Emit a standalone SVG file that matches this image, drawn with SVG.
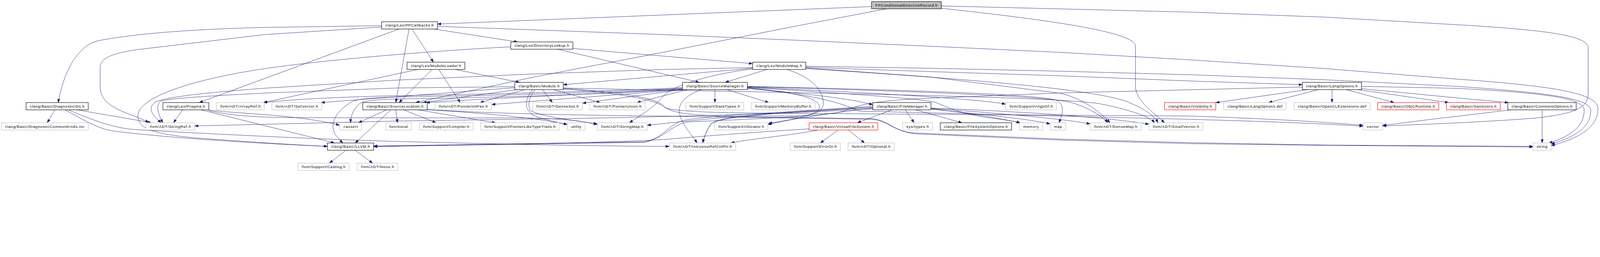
<svg xmlns="http://www.w3.org/2000/svg" width="4843" height="659" viewBox="0 0 4843 659" style="max-width:100%;height:auto">
<style>
.node rect{fill:#ffffff;stroke:#000000;stroke-width:1.3}
.node.g rect{stroke:#bfbfbf}
.node.r rect{stroke:#ff0000}
.node.root rect{fill:#bfbfbf}
.node text{font-family:"Liberation Sans",Arial,Helvetica,sans-serif;font-size:11.5px;text-anchor:middle;fill:#000000}
#edges path{fill:none;stroke:#191970;stroke-width:1;marker-end:url(#arr)}
</style>
<defs>
<marker id="arr" markerUnits="userSpaceOnUse" markerWidth="11" markerHeight="8" refX="11" refY="4" orient="auto">
<path d="M0,0 L11,4 L0,8 z" fill="#191970" stroke="#191970" stroke-width="0.5"/>
</marker>
</defs>
<rect x="0" y="0" width="4843" height="659" fill="#ffffff"/>
<g id="edges">
<path d="M2638,20 L1324,73"/>
<path d="M2683,26.7 L2410,79 L2000,160 L1610,235 L1258,311.2"/>
<path d="M2849,25 C3150,58 3437,95 3437,140 L3437,262 C3437,305 3495,345 3525,372.5"/>
<path d="M2849,18 L3610,37 L4010,52 L4410,75 C4700,92 4807,110 4807,145 L4807,285 C4807,330 4760,345 4650,358 C4500,370 4300,378 4185,382"/>
<path d="M1155,78 L810,83 C600,88 420,100 300,123 C230,137 190,230 176,311.2"/>
<path d="M1155,82 L800,105 L420,150 C330,162 303,180 303,205 L303,262 C303,300 330,322 380,342 C410,354 435,362 450,372.5"/>
<path d="M1208,88 L603,311.2"/>
<path d="M1238,88 L1198,311.2"/>
<path d="M1247,88 L1312,188.6"/>
<path d="M1313,88 L1567,127.3"/>
<path d="M1324,80 L2010,105 L2410,122 L2810,140 L3210,159 L3610,182 L4010,208 L4410,240 C4720,262 4837,285 4837,330 C4837,385 4780,420 4695,442"/>
<path d="M166,333.2 L143,372.5"/>
<path d="M197,333.2 C250,362 295,390 340,397 C450,412 700,432 991,444"/>
<path d="M207,333.2 C280,365 350,390 410,393 C600,405 1000,424 1200,429 C1600,440 1900,444 2026,444"/>
<path d="M233,333.2 C300,345 390,360 458,372.5"/>
<path d="M553,333.2 L525,372.5"/>
<path d="M608,333.2 L1013,433.8"/>
<path d="M632,334 C700,342 800,346 880,355 C950,363 1000,372 1028,380"/>
<path d="M632,336 C700,350 760,356 900,357 L1600,358 C1700,360 1760,366 1808,378"/>
<path d="M1734,147 L2278,193"/>
<path d="M1688,149.3 L2117,249.9"/>
<path d="M1546,142 C1300,155 1000,180 810,207 C600,237 430,290 418,345 C410,395 480,408 600,419 C750,430 900,440 991,444"/>
<path d="M1377,210.6 L1573,249.9"/>
<path d="M1308,210.6 L1208,311.2"/>
<path d="M1265,210.6 L797,311.2"/>
<path d="M1328,210.6 L1393,311.2"/>
<path d="M2322,210.6 L2195,249.9"/>
<path d="M2278,207 L1705,257"/>
<path d="M2439,204 L2810,217 L3210,230 L3610,246 L3942,257"/>
<path d="M2439,201 L2810,207 L3210,216 L3610,227 L4010,242 L4410,262 C4700,282 4815,300 4815,335 C4815,385 4770,415 4695,437"/>
<path d="M2278,205 L2000,211 L1600,225 L1200,243 L810,267 C650,279 500,293 470,310 C448,325 455,345 488,372.5"/>
<path d="M2278,209 C2150,225 2030,260 2005,295 C1975,330 1935,352 1905,372.5"/>
<path d="M2382,210.6 C2450,232 2492,270 2492,313 C2492,345 2450,352 2400,352 C2300,352 2190,348 2152,376 C2138,396 2130,420 2127,433.8"/>
<path d="M2439,206 L2810,233 L3210,283 C3280,300 3330,340 3360,372.5"/>
<path d="M2439,208 C2900,238 3300,268 3410,308 C3465,330 3495,352 3505,372.5"/>
<path d="M1565,271.9 L1280,311.2"/>
<path d="M1642,271.9 L1672,311.2"/>
<path d="M1588,271.9 L1453,311.2"/>
<path d="M1675,271.9 L1817,311.2"/>
<path d="M1558,266 L972,311.2"/>
<path d="M1558,263 L1200,267 L810,282 C650,290 510,298 487,307 C470,318 478,345 493,372.5"/>
<path d="M1705,267 C2400,282 3200,292 3330,315 C3430,335 3480,355 3495,372.5"/>
<path d="M1620,271.9 C1605,290 1595,315 1605,335 C1640,355 1740,365 1808,376"/>
<path d="M1612,271.9 C1590,300 1583,330 1615,350 C1650,365 1695,372 1717,378"/>
<path d="M1705,268 C1900,280 1990,300 2010,322 C2030,345 2100,352 2300,355 L2640,360 C2690,365 2700,395 2760,403 L3210,422 L3610,433 L4010,440 L4640,444"/>
<path d="M1705,270 C1900,285 1990,305 2010,325 C2030,340 2200,343 2400,344 L3600,352 C3900,362 4050,374 4126,380"/>
<path d="M2262,268 C2450,285 2580,300 2642,318"/>
<path d="M2164,271.9 L2164,311.2"/>
<path d="M2200,271.9 L2327,311.2"/>
<path d="M2123,271.9 C2070,290 2050,320 2057,345 C2065,380 2095,410 2110,433.8"/>
<path d="M2066,268 C1800,282 1500,290 1210,294 C1110,296 1075,302 1063,310 C1030,330 1008,355 1008,385 C1008,405 1025,422 1038,433.8"/>
<path d="M2066,271 C1800,287 1500,296 1210,300 C1130,302 1100,306 1088,315 C1070,330 1062,350 1061,372.5"/>
<path d="M2066,270 C1800,285 1450,300 1290,311.2"/>
<path d="M2066,266 C1800,278 1500,285 1210,290 C1000,295 880,302 798,311.2"/>
<path d="M2066,272 L1488,317"/>
<path d="M2066,272 L1763,313"/>
<path d="M2080,271.9 L1928,311.2"/>
<path d="M2262,264 C2600,280 2950,298 3044,316"/>
<path d="M2262,266 C2400,280 2470,295 2480,320 C2488,345 2420,360 2326,374"/>
<path d="M2262,262 C2700,272 3150,285 3200,305 C3225,320 3215,350 3205,372.5"/>
<path d="M2262,265 C2500,280 2750,295 2830,310 C2870,325 2900,345 3000,358 C3040,363 3070,368 3088,372.5"/>
<path d="M2262,263 C2700,275 3150,290 3240,310 C3290,325 3335,350 3353,372.5"/>
<path d="M2262,268 C2500,290 2560,320 2600,337 L3600,362 C3900,370 4050,378 4126,383"/>
<path d="M3958,271.9 L3680,311.2"/>
<path d="M3990,271.9 L3840,311.2"/>
<path d="M4032,271.9 L4032,311.2"/>
<path d="M4075,271.9 L4220,311.2"/>
<path d="M4110,271.9 L4385,311.2"/>
<path d="M4121,269 L4410,297 L4566,311.2"/>
<path d="M4121,262 L4410,268 C4700,283 4795,300 4795,335 C4795,380 4760,412 4688,433.8"/>
<path d="M3942,264 L3210,282 L2810,298 C2650,305 2600,318 2560,335 C2520,352 2300,360 2080,370 C2030,380 2010,420 1950,432 L1131,444"/>
<path d="M4668,333.2 L4668,433.8"/>
<path d="M4573,333.2 L4410,353 C4300,365 4230,376 4185,380"/>
<path d="M1183,333.2 L1075,433.8"/>
<path d="M1170,333.2 L1085,372.5"/>
<path d="M1198,333.2 L1203,372.5"/>
<path d="M1222,333.2 L1320,372.5"/>
<path d="M1265,333.2 L1500,372.5"/>
<path d="M1293,333 C1500,345 1650,362 1717,378"/>
<path d="M1293,332 C1500,346 1800,350 2000,352 L2640,362 C2690,367 2702,397 2770,406 L3210,425 L3610,436 L4010,441 L4640,446"/>
<path d="M2700,333.2 L2595,372.5"/>
<path d="M2740,333.2 L2767,372.5"/>
<path d="M2772,333.2 L2912,372.5"/>
<path d="M2818,330 C2950,345 3030,360 3088,372.5"/>
<path d="M2818,331 C3000,350 3120,362 3179,376"/>
<path d="M2818,329 C3050,345 3230,362 3300,376"/>
<path d="M2818,328 C3150,340 3380,360 3478,377"/>
<path d="M2642,322 C2400,340 2150,350 2070,365 C2020,378 2010,420 1950,430 L1131,443"/>
<path d="M2642,326 C2400,343 2190,348 2152,376 C2138,396 2130,420 2127,433.8"/>
<path d="M2642,326 C2350,338 2100,365 1959,380"/>
<path d="M2642,330 C2400,345 2000,355 1700,360 L1210,367 L800,377 L589,382"/>
<path d="M2642,328 C2500,345 2400,360 2324,378"/>
<path d="M2537,394.5 L2483,433.8"/>
<path d="M2568,394.5 L2617,433.8"/>
<path d="M2449,391 C2300,400 2100,415 2026,422 C1900,432 1500,438 1131,445"/>
<path d="M2476,394.5 C2400,410 2280,420 2212,433.8"/>
<path d="M1047,455.8 L997,495.1"/>
<path d="M1075,455.8 L1128,495.1"/>
</g>
<g id="n_root" class="node root"><rect x="2638" y="4.7" width="211" height="22"/><text x="2743.5" y="19.7" textLength="188" lengthAdjust="spacing">PPConditionalDirectiveRecord.h</text></g>
<g id="n_ppcallbacks" class="node"><rect x="1155" y="66" width="169" height="22"/><text x="1239.5" y="81" textLength="146" lengthAdjust="spacing">clang/Lex/PPCallbacks.h</text></g>
<g id="n_directorylookup" class="node"><rect x="1546" y="127.3" width="188" height="22"/><text x="1640" y="142.3" textLength="165" lengthAdjust="spacing">clang/Lex/DirectoryLookup.h</text></g>
<g id="n_moduleloader" class="node"><rect x="1232" y="188.6" width="175" height="22"/><text x="1319.5" y="203.6" textLength="152" lengthAdjust="spacing">clang/Lex/ModuleLoader.h</text></g>
<g id="n_modulemap" class="node"><rect x="2278" y="188.6" width="161" height="22"/><text x="2358.5" y="203.6" textLength="138" lengthAdjust="spacing">clang/Lex/ModuleMap.h</text></g>
<g id="n_module" class="node"><rect x="1558" y="249.9" width="147" height="22"/><text x="1631.5" y="264.9" textLength="124" lengthAdjust="spacing">clang/Basic/Module.h</text></g>
<g id="n_sourcemanager" class="node"><rect x="2066" y="249.9" width="196" height="22"/><text x="2164" y="264.9" textLength="173" lengthAdjust="spacing">clang/Basic/SourceManager.h</text></g>
<g id="n_langoptions" class="node"><rect x="3942" y="249.9" width="179" height="22"/><text x="4031.5" y="264.9" textLength="156" lengthAdjust="spacing">clang/Basic/LangOptions.h</text></g>
<g id="n_diagnosticids" class="node"><rect x="79" y="311.2" width="188" height="22"/><text x="173" y="326.2" textLength="165" lengthAdjust="spacing">clang/Basic/DiagnosticIDs.h</text></g>
<g id="n_pragma" class="node"><rect x="493" y="311.2" width="139" height="22"/><text x="562.5" y="326.2" textLength="116" lengthAdjust="spacing">clang/Lex/Pragma.h</text></g>
<g id="n_arrayref" class="node g"><rect x="655" y="311.2" width="145" height="22"/><text x="727.5" y="326.2" textLength="122" lengthAdjust="spacing">llvm/ADT/ArrayRef.h</text></g>
<g id="n_setvector" class="node g"><rect x="823" y="311.2" width="151" height="22"/><text x="898.5" y="326.2" textLength="128" lengthAdjust="spacing">llvm/ADT/SetVector.h</text></g>
<g id="n_sourcelocation" class="node"><rect x="1098" y="311.2" width="195" height="22"/><text x="1195.5" y="326.2" textLength="172" lengthAdjust="spacing">clang/Basic/SourceLocation.h</text></g>
<g id="n_pointerintpair" class="node g"><rect x="1317" y="311.2" width="171" height="22"/><text x="1402.5" y="326.2" textLength="148" lengthAdjust="spacing">llvm/ADT/PointerIntPair.h</text></g>
<g id="n_denseset" class="node g"><rect x="1612" y="311.2" width="151" height="22"/><text x="1687.5" y="326.2" textLength="128" lengthAdjust="spacing">llvm/ADT/DenseSet.h</text></g>
<g id="n_pointerunion" class="node g"><rect x="1785" y="311.2" width="168" height="22"/><text x="1869" y="326.2" textLength="145" lengthAdjust="spacing">llvm/ADT/PointerUnion.h</text></g>
<g id="n_datatypes" class="node g"><rect x="2076" y="311.2" width="175" height="22"/><text x="2163.5" y="326.2" textLength="152" lengthAdjust="spacing">llvm/Support/DataTypes.h</text></g>
<g id="n_memorybuffer" class="node g"><rect x="2274" y="311.2" width="193" height="22"/><text x="2370.5" y="326.2" textLength="170" lengthAdjust="spacing">llvm/Support/MemoryBuffer.h</text></g>
<g id="n_filemanager" class="node"><rect x="2642" y="311.2" width="176" height="22"/><text x="2730" y="326.2" textLength="153" lengthAdjust="spacing">clang/Basic/FileManager.h</text></g>
<g id="n_alignof" class="node g"><rect x="3044" y="311.2" width="154" height="22"/><text x="3121" y="326.2" textLength="131" lengthAdjust="spacing">llvm/Support/AlignOf.h</text></g>
<g id="n_visibility" class="node r"><rect x="3525" y="311.2" width="155" height="22"/><text x="3602.5" y="326.2" textLength="132" lengthAdjust="spacing">clang/Basic/Visibility.h</text></g>
<g id="n_langoptionsdef" class="node g"><rect x="3704" y="311.2" width="189" height="22"/><text x="3798.5" y="326.2" textLength="166" lengthAdjust="spacing">clang/Basic/LangOptions.def</text></g>
<g id="n_openclext" class="node g"><rect x="3917" y="311.2" width="230" height="22"/><text x="4032" y="326.2" textLength="207" lengthAdjust="spacing">clang/Basic/OpenCLExtensions.def</text></g>
<g id="n_objcruntime" class="node r"><rect x="4170" y="311.2" width="185" height="22"/><text x="4262.5" y="326.2" textLength="162" lengthAdjust="spacing">clang/Basic/ObjCRuntime.h</text></g>
<g id="n_sanitizers" class="node r"><rect x="4378" y="311.2" width="163" height="22"/><text x="4459.5" y="326.2" textLength="140" lengthAdjust="spacing">clang/Basic/Sanitizers.h</text></g>
<g id="n_commentoptions" class="node"><rect x="4564" y="311.2" width="207" height="22"/><text x="4667.5" y="326.2" textLength="184" lengthAdjust="spacing">clang/Basic/CommentOptions.h</text></g>
<g id="n_diagkinds" class="node g"><rect x="4" y="372.5" width="263" height="22"/><text x="135.5" y="387.5" textLength="240" lengthAdjust="spacing">clang/Basic/DiagnosticCommonKinds.inc</text></g>
<g id="n_stringref" class="node g"><rect x="442" y="372.5" width="147" height="22"/><text x="515.5" y="387.5" textLength="124" lengthAdjust="spacing">llvm/ADT/StringRef.h</text></g>
<g id="n_cassert" class="node g"><rect x="1028" y="372.5" width="66" height="22"/><text x="1061" y="387.5" textLength="43" lengthAdjust="spacing">cassert</text></g>
<g id="n_functional" class="node g"><rect x="1167" y="372.5" width="79" height="22"/><text x="1206.5" y="387.5" textLength="56" lengthAdjust="spacing">functional</text></g>
<g id="n_compiler" class="node g"><rect x="1269" y="372.5" width="163" height="22"/><text x="1350.5" y="387.5" textLength="140" lengthAdjust="spacing">llvm/Support/Compiler.h</text></g>
<g id="n_pointerlike" class="node g"><rect x="1455" y="372.5" width="238" height="22"/><text x="1574" y="387.5" textLength="215" lengthAdjust="spacing">llvm/Support/PointerLikeTypeTraits.h</text></g>
<g id="n_utility" class="node g"><rect x="1717" y="372.5" width="54" height="22"/><text x="1744" y="387.5" textLength="31" lengthAdjust="spacing">utility</text></g>
<g id="n_stringmap" class="node g"><rect x="1808" y="372.5" width="151" height="22"/><text x="1883.5" y="387.5" textLength="128" lengthAdjust="spacing">llvm/ADT/StringMap.h</text></g>
<g id="n_allocator" class="node g"><rect x="2163" y="372.5" width="161" height="22"/><text x="2243.5" y="387.5" textLength="138" lengthAdjust="spacing">llvm/Support/Allocator.h</text></g>
<g id="n_vfs" class="node r"><rect x="2449" y="372.5" width="208" height="22"/><text x="2553" y="387.5" textLength="185" lengthAdjust="spacing">clang/Basic/VirtualFileSystem.h</text></g>
<g id="n_systypes" class="node g"><rect x="2732" y="372.5" width="91" height="22"/><text x="2777.5" y="387.5" textLength="68" lengthAdjust="spacing">sys/types.h</text></g>
<g id="n_fsoptions" class="node"><rect x="2846" y="372.5" width="216" height="22"/><text x="2954" y="387.5" textLength="193" lengthAdjust="spacing">clang/Basic/FileSystemOptions.h</text></g>
<g id="n_memory" class="node g"><rect x="3086" y="372.5" width="70" height="22"/><text x="3121" y="387.5" textLength="47" lengthAdjust="spacing">memory</text></g>
<g id="n_map" class="node g"><rect x="3179" y="372.5" width="47" height="22"/><text x="3202.5" y="387.5" textLength="24" lengthAdjust="spacing">map</text></g>
<g id="n_densemap" class="node g"><rect x="3300" y="372.5" width="154" height="22"/><text x="3377" y="387.5" textLength="131" lengthAdjust="spacing">llvm/ADT/DenseMap.h</text></g>
<g id="n_smallvector" class="node g"><rect x="3478" y="372.5" width="163" height="22"/><text x="3559.5" y="387.5" textLength="140" lengthAdjust="spacing">llvm/ADT/SmallVector.h</text></g>
<g id="n_vector" class="node g"><rect x="4126" y="372.5" width="59" height="22"/><text x="4155.5" y="387.5" textLength="36" lengthAdjust="spacing">vector</text></g>
<g id="n_llvm" class="node"><rect x="991" y="433.8" width="140" height="22"/><text x="1061" y="448.8" textLength="117" lengthAdjust="spacing">clang/Basic/LLVM.h</text></g>
<g id="n_intrusive" class="node g"><rect x="2026" y="433.8" width="201" height="22"/><text x="2126.5" y="448.8" textLength="178" lengthAdjust="spacing">llvm/ADT/IntrusiveRefCntPtr.h</text></g>
<g id="n_erroror" class="node g"><rect x="2392" y="433.8" width="152" height="22"/><text x="2468" y="448.8" textLength="129" lengthAdjust="spacing">llvm/Support/ErrorOr.h</text></g>
<g id="n_optional" class="node g"><rect x="2567" y="433.8" width="140" height="22"/><text x="2637" y="448.8" textLength="117" lengthAdjust="spacing">llvm/ADT/Optional.h</text></g>
<g id="n_string" class="node g"><rect x="4640" y="433.8" width="55" height="22"/><text x="4667.5" y="448.8" textLength="32" lengthAdjust="spacing">string</text></g>
<g id="n_casting" class="node g"><rect x="902" y="495.1" width="155" height="22"/><text x="979.5" y="510.1" textLength="132" lengthAdjust="spacing">llvm/Support/Casting.h</text></g>
<g id="n_none" class="node g"><rect x="1081" y="495.1" width="123" height="22"/><text x="1142.5" y="510.1" textLength="100" lengthAdjust="spacing">llvm/ADT/None.h</text></g>
</svg>
